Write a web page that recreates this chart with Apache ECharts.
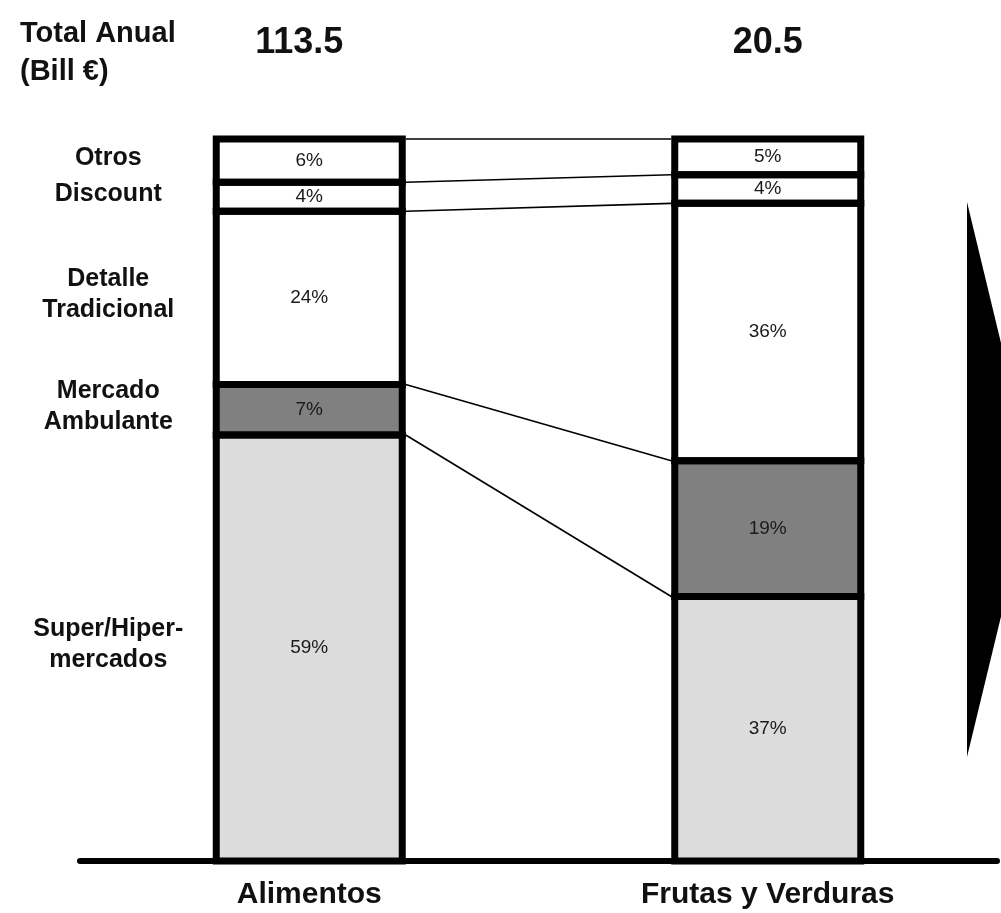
<!DOCTYPE html>
<html>
<head>
<meta charset="utf-8">
<script src="https://cdn.jsdelivr.net/npm/echarts@6/dist/echarts.min.js"></script>
<style>
  html, body { margin: 0; padding: 0; background: #fff; }
  #chart { width: 1001px; height: 913px; }
</style>
</head>
<body>
<div id="chart"></div>
<script>
// data (shares in %, bottom segment first)
const categories = ['Alimentos', 'Frutas y Verduras'];
const totals = [113.5, 20.5];
const segmentNames = ['Super/Hiper-\nmercados', 'Mercado\nAmbulante', 'Detalle\nTradicional', 'Discount', 'Otros'];
const superHiper = [59, 37];
const mercado = [7, 19];
const detalle = [24, 36];
const discount = [4, 4];
const otros = [6, 5];

const segmentValues = [superHiper, mercado, detalle, discount, otros];
const segmentColors = ['#dcdcdc', '#808080', '#ffffff', '#ffffff', '#ffffff'];
const font = '"Liberation Sans", Arial, sans-serif';
const barW = 186;
const border = 7;

// each bar is drawn to full height, so scale by the column sum
const sums = categories.map((c, i) => segmentValues.reduce((s, arr) => s + arr[i], 0));
const norm = segmentValues.map(arr => arr.map((v, i) => v / sums[i] * 100));

// cumulative bottoms / tops of every segment for both bars
const segs = [];
let cum = categories.map(() => 0);
norm.forEach((arr, s) => {
    const bottom = cum.slice();
    cum = cum.map((c, i) => c + arr[i]);
    segs.push([bottom[0], cum[0], bottom[1], cum[1], s]);
});

const barSeries = norm.map((arr, s) => ({
    type: 'bar',
    stack: 'total',
    barWidth: barW,
    name: segmentNames[s],
    data: arr.map((v, i) => ({ value: v, raw: segmentValues[s][i] })),
    itemStyle: { color: segmentColors[s], borderWidth: 0 },
    label: {
        show: true,
        position: 'inside',
        formatter: p => p.data.raw + '%',
        fontFamily: font,
        fontSize: 19,
        color: '#1a1a1a'
    },
    emphasis: { disabled: true },
    z: 3
}));

var chart = echarts.init(document.getElementById('chart'));
var option = {
    animation: false,
    backgroundColor: '#fff',
    title: {
        text: 'Total Anual\n(Bill €)',
        left: 15,
        top: 10,
        textStyle: { fontFamily: font, fontSize: 29, fontWeight: 'bold', color: '#111', lineHeight: 38 }
    },
    grid: { left: 80, right: 4, top: 139, bottom: 52 },
    xAxis: {
        type: 'category',
        data: categories,
        axisLine: { lineStyle: { color: '#000', width: 6 } },
        axisTick: { show: false },
        axisLabel: { fontFamily: font, fontSize: 30, fontWeight: 'bold', color: '#111', margin: 19 }
    },
    yAxis: { type: 'value', min: 0, max: 100, show: false, splitLine: { show: false } },
    series: barSeries.concat([
        {
            // bar outlines (stroke centred on the edges), connectors, row names
            type: 'custom',
            clip: false,
            silent: true,
            z: 4,
            data: segs,
            renderItem: function (params, api) {
                const a0 = api.coord([0, api.value(0)]);
                const a1 = api.coord([0, api.value(1)]);
                const b0 = api.coord([1, api.value(2)]);
                const b1 = api.coord([1, api.value(3)]);
                const s = api.value(4);
                const outline = { stroke: '#000', lineWidth: border, fill: null };
                return {
                    type: 'group',
                    children: [{
                        type: 'rect',
                        shape: { x: a0[0] - barW / 2, y: a1[1], width: barW, height: a0[1] - a1[1] },
                        style: outline
                    }, {
                        type: 'rect',
                        shape: { x: b0[0] - barW / 2, y: b1[1], width: barW, height: b0[1] - b1[1] },
                        style: outline
                    }, {
                        type: 'line',
                        shape: { x1: a1[0] + barW / 2 + border / 2, y1: a1[1], x2: b1[0] - barW / 2 - border / 2, y2: b1[1] },
                        style: { stroke: '#000', lineWidth: 1.6 }
                    }, {
                        type: 'text',
                        x: a0[0] - 201,
                        y: (a0[1] + a1[1]) / 2 - 3,
                        style: {
                            text: segmentNames[s],
                            fontFamily: font, fontSize: 25, fontWeight: 'bold', fill: '#111',
                            align: 'center', verticalAlign: 'middle', lineHeight: 31
                        }
                    }]
                };
            }
        },
        {
            // annual totals above each bar
            type: 'custom',
            clip: false,
            silent: true,
            data: totals.map((t, i) => [i, 100, t]),
            renderItem: function (params, api) {
                const p = api.coord([api.value(0), api.value(1)]);
                return {
                    type: 'text',
                    x: p[0] - (api.value(0) === 0 ? 10 : 0),
                    y: p[1] - 96,
                    style: {
                        text: String(api.value(2)),
                        fontFamily: font, fontSize: 36, fontWeight: 'bold', fill: '#111',
                        align: 'center', verticalAlign: 'middle'
                    }
                };
            }
        }
    ]),
    graphic: [{
        type: 'polygon',
        shape: { points: [[967, 202], [1034, 480], [967, 757]] },
        style: { fill: '#000' }
    }]
};
chart.setOption(option);
</script>
</body>
</html>
